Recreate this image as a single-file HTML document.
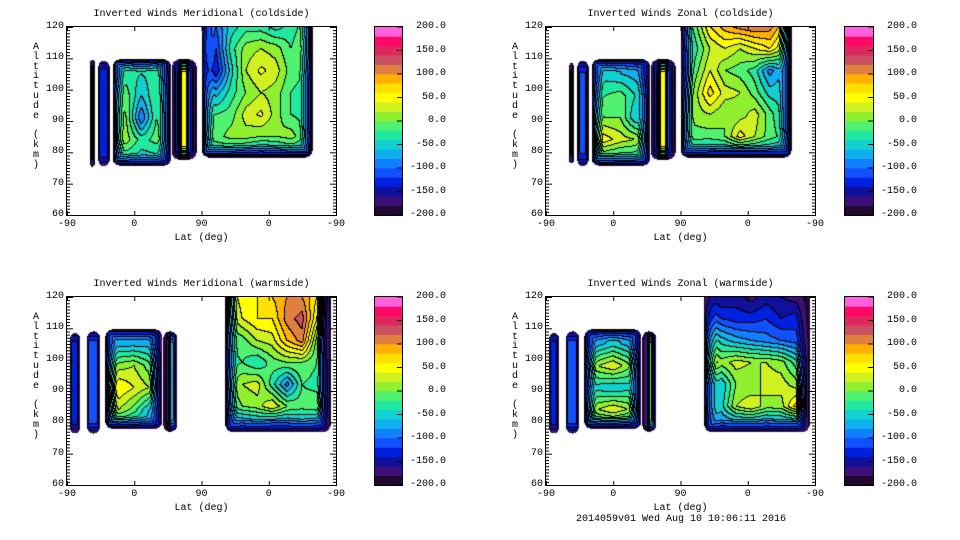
<!DOCTYPE html>
<html><head><meta charset="utf-8">
<style>
html,body{margin:0;padding:0;background:#fff;}
body{width:960px;height:540px;position:relative;overflow:hidden;font-family:"Liberation Mono","DejaVu Sans Mono",monospace;font-size:10px;color:#000;}
.t{position:absolute;white-space:pre;line-height:10px;}
canvas{position:absolute;}
</style></head><body>
<div id="root"></div>
<script>
// Colour scale levels (-200..200 step 20)
const levelColors=['#200830','#3c1078','#10109a','#0020e0','#1050ff','#1080ff','#10b0f0','#10d0d0','#20e8a0','#50f070','#90f030','#d0f020','#ffff00','#ffe000','#ffb000','#e08040','#c85060','#e02860','#ff0868','#ff60e0'];
const cbTicks=[200,150,100,50,0,-50,-100,-150,-200];
const xTickLabels=['-90','0','90','0','-90'];
const xTickU=[0,90,180,270,360];
const yTicks=[120,110,100,90,80,70,60];

// Panel: top-left Meridional coldside
const tlBlocks=[
 {u:[31.7,36.2],a:[75.4,109.6],cu:[34],ca:[90],v:[[-150]]},
 {u:[42.4,56.3],a:[75.6,109.2],cu:[49],ca:[90],v:[[-130]]},
 {u:[61.6,138.9],a:[75.8,109.5],cu:[65,80,100,120,137],ca:[105,98,91,84,78],v:[
  [-50,-30,-40,-30,-70],[0,-10,-60,-20,-50],[20,0,-100,-20,-40],[30,10,-30,-10,-40],[-40,-40,-50,-50,-80]]},
 {u:[141,173],a:[77.8,109.5],cu:[143,150,154,160,164,171],ca:[95],v:[[-150,-110,40,40,-110,-150]]},
 {u:[181,328],a:[78.5,121],cu:[185,200,220,240,260,280,300,320],ca:[120,113,106,99,92,85,80],v:[
  [-70,-100,-50,-30,-30,-50,-30,-10],[-50,-120,-30,10,20,10,-20,0],[-70,-140,-50,20,45,30,-10,-20],
  [-40,-70,-30,0,20,10,-20,-30],[-20,-20,-10,30,45,10,-20,-30],[-10,-10,10,10,0,0,10,-20],[-40,-40,-50,-60,-70,-60,-50,-50]]}
];
// Panel: top-right Zonal coldside
const trBlocks=[
 {u:[31.7,36.2],a:[76.5,108.5],cu:[34],ca:[90],v:[[-150]]},
 {u:[42.4,56.3],a:[75.6,109.2],cu:[49],ca:[90],v:[[-120]]},
 {u:[61.6,138.9],a:[75.8,109.5],cu:[65,80,100,120,137],ca:[105,98,91,84,78],v:[
  [-70,-50,-60,-70,-90],[-30,-20,-10,-40,-50],[10,0,0,-60,-30],[70,50,30,20,-20],[-40,-30,-40,-40,-70]]},
 {u:[141,173],a:[77.8,109.5],cu:[143,150,154,160,164,171],ca:[95],v:[[-150,-110,40,40,-110,-150]]},
 {u:[181,328],a:[78.5,121],cu:[185,200,220,240,260,280,300,320],ca:[120,113,106,99,92,85,80],v:[
  [-50,-10,60,90,110,120,110,60],[-70,-30,20,40,20,40,60,10],[-90,-10,40,0,-10,-30,-90,-50],
  [-50,10,70,30,20,-10,-50,-50],[-30,10,20,0,10,30,-10,-50],[-20,-10,-10,0,50,20,-10,-30],[-50,-60,-70,-70,-70,-70,-70,-70]]}
];
// Panel: bottom-left Meridional warmside
const blBlocks=[
 {u:[4.5,17],a:[76.5,108.5],cu:[11],ca:[90],v:[[-130]]},
 {u:[27,44],a:[76.5,109],cu:[35],ca:[90],v:[[-110]]},
 {u:[52,127],a:[78,109.5],cu:[55,70,90,110,125],ca:[105,98,91,84,79],v:[
  [-70,-70,-70,-70,-110],[-20,10,20,-10,-80],[30,60,40,20,-70],[-10,20,-10,-60,-80],[-60,-50,-60,-70,-100]]},
 {u:[129.5,147],a:[77,109],cu:[131,136,140,146],ca:[95],v:[[-200,-170,-70,-90]]},
 {u:[212.6,352],a:[77,121],cu:[215,235,255,275,295,315,335,350],ca:[120,113,106,99,92,85,80],v:[
  [20,50,60,80,100,100,60,-120],[0,40,60,60,110,130,40,-150],[-20,-10,20,30,80,110,-10,-150],
  [-30,-20,-40,-10,0,0,-20,-130],[-10,20,30,-30,-90,-20,-30,-120],[-30,0,10,40,0,-10,0,-120],[-70,-80,-70,-80,-80,-70,-80,-130]]}
];
// Panel: bottom-right Zonal warmside
const brBlocks=[
 {u:[4.5,17],a:[76.5,108.5],cu:[11],ca:[90],v:[[-130]]},
 {u:[27,44],a:[76.5,109],cu:[35],ca:[90],v:[[-110]]},
 {u:[52,127],a:[78,109.5],cu:[55,70,90,110,125],ca:[105,98,91,84,79],v:[
  [-90,-70,-50,-70,-90],[-20,20,40,10,-50],[-40,-50,-60,-50,-50],[-10,20,40,20,-40],[-60,-50,-50,-60,-90]]},
 {u:[129.5,147],a:[77,109],cu:[131,136,140,146],ca:[95],v:[[-180,-170,0,-60]]},
 {u:[212.6,352],a:[77,121],cu:[215,235,255,275,295,315,335,350],ca:[120,113,106,99,92,85,80],v:[
  [-140,-160,-150,-170,-150,-160,-170,-180],[-90,-120,-130,-130,-120,-140,-130,-170],[-10,-50,-70,-80,-90,-100,-110,-150],
  [50,10,30,20,20,10,-30,-120],[-30,-60,0,0,30,30,10,-100],[-40,-50,20,40,10,10,70,-100],[-60,-80,-70,-70,-80,-70,-70,-150]]}
];

const panels=[
 {name:'meridional-coldside',title:'Inverted Winds Meridional (coldside)',ox:0,oy:0,blocks:tlBlocks},
 {name:'zonal-coldside',title:'Inverted Winds Zonal (coldside)',ox:479,oy:0,blocks:trBlocks},
 {name:'meridional-warmside',title:'Inverted Winds Meridional (warmside)',ox:0,oy:270,blocks:blBlocks},
 {name:'zonal-warmside',title:'Inverted Winds Zonal (warmside)',ox:479,oy:270,blocks:brBlocks}
];

const PL=67,PT=27,PW=269,PH=188;
const root=document.getElementById('root');
function xOf(u){return u/360*PW;}
function yOf(a){return (120-a)/60*PH;}
function hex(c){return [parseInt(c.substr(1,2),16),parseInt(c.substr(3,2),16),parseInt(c.substr(5,2),16)];}
const rgb=levelColors.map(hex);
function interp1(arr,x){
  if(arr.length===1) return [0,0];
  const asc=arr[arr.length-1]>arr[0];
  for(let i=0;i<arr.length-1;i++){
    const a=arr[i],b=arr[i+1];
    const lo=Math.min(a,b),hi=Math.max(a,b);
    if(x>=lo&&x<=hi){return [i,(x-a)/(b-a)];}
  }
  if(asc) return x<arr[0]?[0,0]:[arr.length-2,1];
  return x>arr[0]?[0,0]:[arr.length-2,1];
}
function sample(b,u,a){
  const [ci,ct]=interp1(b.cu,u),[ri,rt]=interp1(b.ca,a);
  const v=b.v;
  const r0=v[ri],r1=v[Math.min(ri+1,v.length-1)];
  const g=(r,i)=>r[Math.min(i,r.length-1)];
  const top=g(r0,ci)*(1-ct)+g(r0,ci+1)*ct;
  const bot=g(r1,ci)*(1-ct)+g(r1,ci+1)*ct;
  return top*(1-rt)+bot*rt;
}
function txt(s,x,y,name,extra){
  const d=document.createElement('div');d.className='t';d.textContent=s;
  d.style.left=x+'px';d.style.top=y+'px';
  if(extra)Object.assign(d.style,extra);
  
  
  root.appendChild(d);return d;
}
panels.forEach(p=>{
  const g=document.createElement('div');
  g.style.position='absolute';g.style.left=p.ox+'px';g.style.top=p.oy+'px';g.style.width='480px';g.style.height='270px';
  
  
  root.appendChild(g);
  const add=(el)=>g.appendChild(el);
  const cv=document.createElement('canvas');cv.width=PW;cv.height=PH;
  cv.style.left=PL+'px';cv.style.top=PT+'px';
  
  
  add(cv);
  const ctx=cv.getContext('2d');
  const img=ctx.createImageData(PW,PH);
  const lvl=new Int16Array(PW*PH).fill(-1);
  p.blocks.forEach(b=>{
    const L=xOf(b.u[0]),R=xOf(b.u[1]),T=yOf(b.a[1]),B=yOf(b.a[0]);
    const noTop=b.a[1]>120;
    const w=R-L,h=B-T;
    const rad=Math.min(6,Math.min(w,h)/2);
    const rimx=Math.max(1.5,Math.min(12,0.2*w)),rimy=Math.max(1.5,Math.min(12,0.42*h));
    for(let j=Math.max(0,Math.floor(T));j<Math.min(PH,Math.ceil(B));j++){
      for(let i=Math.max(0,Math.floor(L));i<Math.min(PW,Math.ceil(R));i++){
        const px=i+0.5,py=j+0.5;
        const dx=Math.min(px-L,R-px);
        const dy=noTop?B-py:Math.min(py-T,B-py);
        if(dx<rad&&dy<rad&&rad-Math.hypot(rad-dx,rad-dy)<0)continue;
        const u=px/PW*360,a=120-py/PH*60;
        let v=sample(b,u,a);
        const f=Math.pow(Math.min(1,dx/rimx,dy/rimy),0.6);
        v=-185+(v+185)*f;
        let k=Math.floor((v+200)/20);k=Math.max(0,Math.min(19,k));
        lvl[j*PW+i]=k;
      }
    }
  });
  for(let j=0;j<PH;j++)for(let i=0;i<PW;i++){
    const idx=j*PW+i,k=lvl[idx];let c=[255,255,255];
    if(k>=0){
      c=rgb[k];
      const r=i<PW-1?lvl[idx+1]:k,bb=j<PH-1?lvl[idx+PW]:k;
      if((r>=0&&r!==k)||(bb>=0&&bb!==k))c=[0,0,0];
    }
    img.data[idx*4]=c[0];img.data[idx*4+1]=c[1];img.data[idx*4+2]=c[2];img.data[idx*4+3]=255;
  }
  ctx.putImageData(img,0,0);
  const NS='http://www.w3.org/2000/svg';
  const svg=document.createElementNS(NS,'svg');
  svg.setAttribute('width','480');svg.setAttribute('height','270');
  svg.style.position='absolute';svg.style.left='0';svg.style.top='0';
  
  
  let s='<rect x="'+(PL-0.5)+'" y="'+(PT-0.5)+'" width="'+(PW+1)+'" height="'+(PH+1)+'" fill="none" stroke="#000" stroke-width="1"/>';
  for(let a=60;a<=120;a++){
    const y=PT+yOf(a)+0.5;const len=(a%10===0)?6:3;
    s+='<line x1="'+PL+'" x2="'+(PL+len)+'" y1="'+y+'" y2="'+y+'" stroke="#000"/>';
    s+='<line x1="'+(PL+PW-len)+'" x2="'+(PL+PW)+'" y1="'+y+'" y2="'+y+'" stroke="#000"/>';
  }
  xTickU.forEach(u=>{const x=PL+xOf(u)+0.5;
    s+='<line x1="'+x+'" x2="'+x+'" y1="'+(PT+PH)+'" y2="'+(PT+PH-4)+'" stroke="#000"/>';
    s+='<line x1="'+x+'" x2="'+x+'" y1="'+PT+'" y2="'+(PT+4)+'" stroke="#000"/>';});
  const cbx=p.ox===0?375:366, cbw=p.ox===0?27:28, cbT=27, cbH=188;
  for(let k=0;k<20;k++){
    const y0=cbT+cbH-(k+1)*cbH/20;
    s+='<rect x="'+cbx+'" y="'+y0.toFixed(2)+'" width="'+cbw+'" height="'+(cbH/20+0.3).toFixed(2)+'" fill="'+levelColors[k]+'"/>';
  }
  s+='<rect x="'+(cbx-0.5)+'" y="'+(cbT-0.5)+'" width="'+(cbw+1)+'" height="'+(cbH+1)+'" fill="none" stroke="#000"/>';
  cbTicks.forEach(v=>{const y=cbT+(200-v)/400*cbH;s+='<line x1="'+(cbx+cbw-5)+'" x2="'+(cbx+cbw)+'" y1="'+y+'" y2="'+y+'" stroke="#000"/>';});
  svg.innerHTML=s;add(svg);
  const T=(str,x,y,name,ex)=>{const d=txt(str,x,y,name,ex);g.appendChild(d);return d;};
  T(p.title,PL+PW/2,10,'chart-title',{transform:'translateX(-50%)'});
  yTicks.forEach(a=>T(String(a),0,PT+yOf(a)-5,'y-tick-label',{width:(PL-3)+'px',textAlign:'right'}));
  xTickU.forEach((u,i)=>T(xTickLabels[i],PL+xOf(u),220,'x-tick-label',{transform:'translateX(-50%)'}));
  T('Lat (deg)',PL+PW/2,234,'x-axis-title',{transform:'translateX(-50%)'});
  'Altitude (km)'.split('').forEach((ch,i)=>{if(ch!==' ')T(ch,33,43+i*9.8,'y-axis-title-char');});
  cbTicks.forEach(v=>{const y=cbT+(200-v)/400*cbH;
    T(v.toFixed(1),cbx+cbw+6,y-5,'colorbar-label',{width:'38px',textAlign:'right'});});
});
txt('2014059v01 Wed Aug 10 10:06:11 2016',681,515,'footer-timestamp',{transform:'translateX(-50%)'});
</script>
</body></html>
